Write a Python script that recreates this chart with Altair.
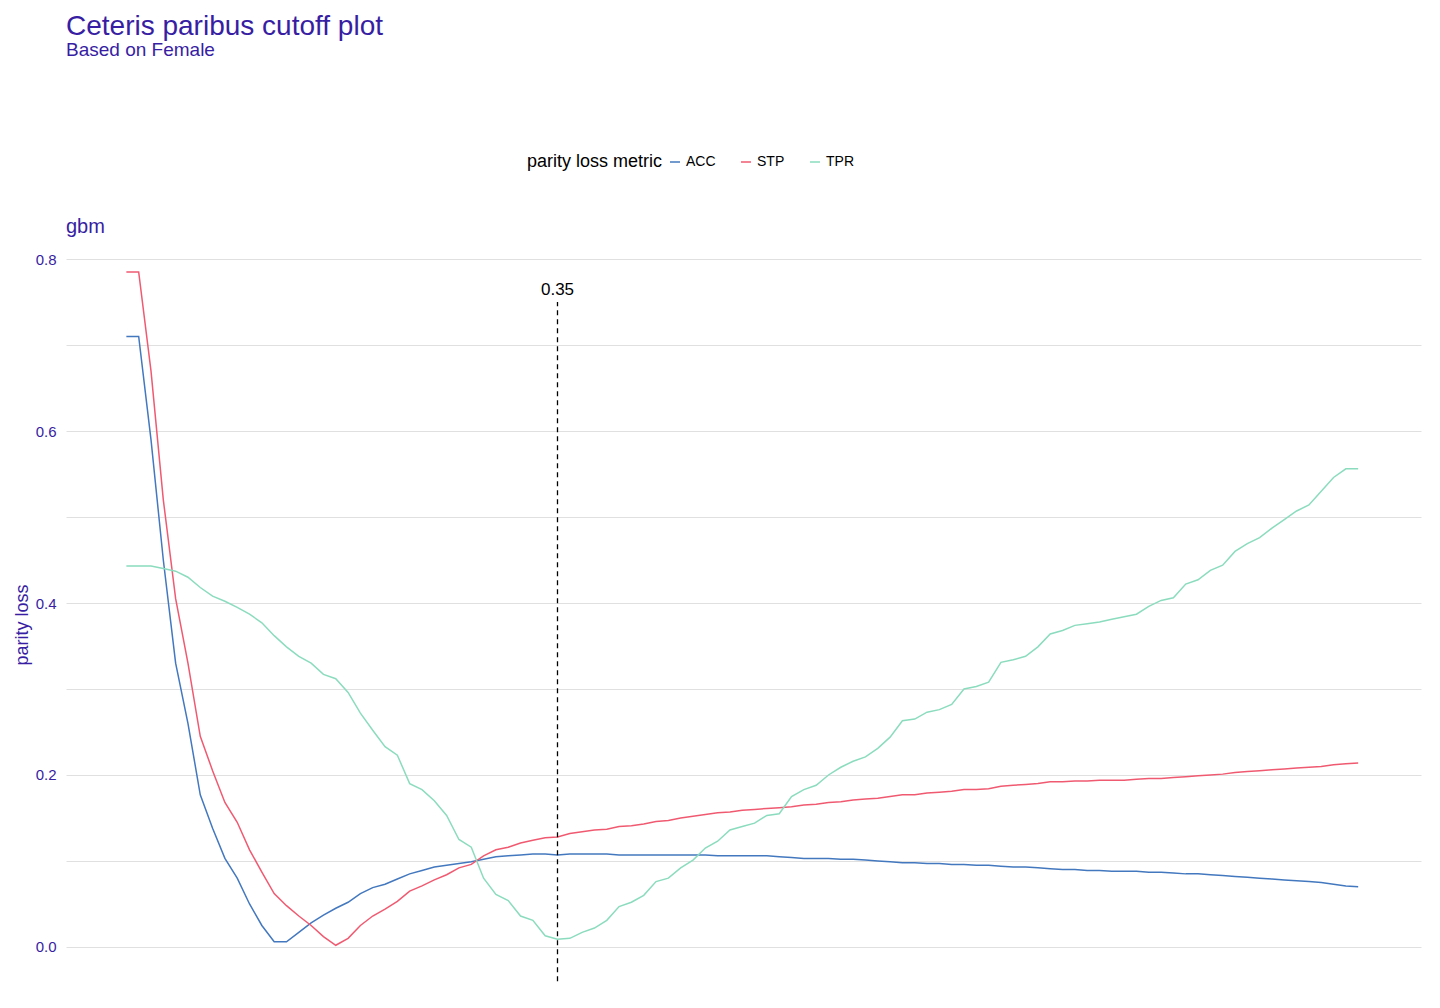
import altair as alt
import pandas as pd

cutoff = [round(i * 0.01, 2) for i in range(101)]
acc = [0.71,0.71,0.59,0.45,0.33,0.26,0.177,0.138,0.103,0.08,0.05,0.025,0.006,0.006,0.017,0.028,0.037,0.045,0.052,0.062,
       0.069,0.073,0.079,0.085,0.089,0.093,0.095,0.097,0.099,0.102,0.105,0.106,0.107,0.108,0.108,0.107,0.108,0.108,0.108,0.108,
       0.107,0.107,0.107,0.107,0.107,0.107,0.107,0.107,0.106,0.106,0.106,0.106,0.106,0.105,0.104,0.103,0.103,0.103,0.102,0.102,
       0.101,0.100,0.099,0.098,0.098,0.097,0.097,0.096,0.096,0.095,0.095,0.094,0.093,0.093,0.092,0.091,0.090,0.090,0.089,0.089,
       0.088,0.088,0.088,0.087,0.087,0.086,0.085,0.085,0.084,0.083,0.082,0.081,0.080,0.079,0.078,0.077,0.076,0.075,0.073,0.071,0.070]
stp = [0.785,0.785,0.67,0.52,0.405,0.33,0.245,0.205,0.168,0.145,0.113,0.087,0.062,0.048,0.036,0.025,0.012,0.002,0.01,0.025,
       0.036,0.044,0.053,0.065,0.071,0.078,0.084,0.092,0.096,0.106,0.113,0.116,0.121,0.124,0.127,0.128,0.132,0.134,0.136,0.137,
       0.140,0.141,0.143,0.146,0.147,0.150,0.152,0.154,0.156,0.157,0.159,0.160,0.161,0.162,0.163,0.165,0.166,0.168,0.169,0.171,
       0.172,0.173,0.175,0.177,0.177,0.179,0.180,0.181,0.183,0.183,0.184,0.187,0.188,0.189,0.190,0.192,0.192,0.193,0.193,0.194,
       0.194,0.194,0.195,0.196,0.196,0.197,0.198,0.199,0.200,0.201,0.203,0.204,0.205,0.206,0.207,0.208,0.209,0.210,0.212,0.213,0.214]
tpr = [0.443,0.443,0.443,0.44,0.437,0.43,0.418,0.408,0.402,0.395,0.387,0.377,0.362,0.349,0.338,0.33,0.317,0.312,0.296,0.272,
       0.252,0.233,0.223,0.19,0.183,0.17,0.153,0.125,0.116,0.08,0.061,0.054,0.036,0.031,0.013,0.009,0.01,0.017,0.022,0.031,
       0.047,0.052,0.06,0.076,0.08,0.092,0.101,0.115,0.123,0.136,0.14,0.144,0.153,0.155,0.175,0.183,0.188,0.2,0.209,0.216,
       0.221,0.231,0.244,0.263,0.265,0.273,0.276,0.282,0.3,0.303,0.308,0.331,0.334,0.338,0.349,0.364,0.368,0.374,0.376,0.378,
       0.381,0.384,0.387,0.396,0.403,0.406,0.422,0.427,0.438,0.444,0.46,0.469,0.476,0.487,0.497,0.507,0.514,0.53,0.546,0.556,0.556]
metrics = ["ACC", "STP", "TPR"]
colors = ["#4378bf", "#f05a71", "#8bdcbe"]
chosen_cutoff = 0.35

rows = []
for m, vals in zip(metrics, [acc, stp, tpr]):
    for c, v in zip(cutoff, vals):
        rows.append({"cutoff": c, "loss": v, "metric": m})
df = pd.DataFrame(rows)

purple = "#371ea3"
xs = alt.Scale(domain=[-0.049, 1.051], nice=False, zero=False)
ys = alt.Scale(domain=[-0.064, 0.814], nice=False, zero=False)

lines = alt.Chart(df).mark_line(strokeWidth=1.5).encode(
    x=alt.X("cutoff:Q", scale=xs, title="value of cutoff",
            axis=alt.Axis(values=[0, 0.25, 0.5, 0.75, 1.0], format=".2f", grid=False)),
    y=alt.Y("loss:Q", scale=ys, title="parity loss",
            axis=alt.Axis(values=[0, 0.1, 0.2, 0.3, 0.4, 0.5, 0.6, 0.7, 0.8],
                          labelExpr="(round(datum.value*10) % 2 == 0) ? format(datum.value, '.1f') : ''")),
    color=alt.Color("metric:N", scale=alt.Scale(domain=metrics, range=colors),
                    legend=alt.Legend(title="parity loss metric", orient="none", direction="horizontal",
                                      legendX=461, legendY=-92,
                                      titleOrient="left", symbolType="stroke", symbolStrokeWidth=1.5,
                                      titleFontSize=18, titleFontWeight="normal", labelFontSize=14,
                                      titleColor="black", labelColor="black", columnPadding=22)),
)

vdf = pd.DataFrame({"cutoff": [chosen_cutoff], "lo": [-0.04], "hi": [0.75], "label": ["0.35"]})
rule = alt.Chart(vdf).mark_rule(color="black", strokeDash=[5, 4], strokeWidth=1.3).encode(
    x="cutoff:Q", y="lo:Q", y2="hi:Q")
lbl = alt.Chart(vdf).mark_text(dy=-12, fontSize=17, color="black").encode(
    x="cutoff:Q", y="hi:Q", text="label:N")
gbm = alt.Chart(pd.DataFrame({"t": ["gbm"]})).mark_text(
    align="left", fontSize=20, color=purple, baseline="bottom").encode(
    x=alt.value(0), y=alt.value(-10), text="t:N")

chart = alt.layer(lines, rule, lbl, gbm).properties(
    width=1355, height=755,
    title=alt.Title("Ceteris paribus cutoff plot", subtitle="Based on Female", anchor="start",
                    fontSize=28, fontWeight="normal", color=purple, subtitleColor=purple,
                    subtitleFontSize=19, offset=95, frame="group", subtitlePadding=0),
).configure(font="Liberation Sans").configure_view(stroke=None).configure_axis(
    domain=False, ticks=False, gridColor="#e0e0e0", labelColor=purple, titleColor=purple,
    labelFontSize=15, titleFontSize=18, titleFontWeight="normal", labelPadding=10,
    labelFont="Liberation Sans", titleFont="Liberation Sans",
)

chart.save("out.html", embed_options={"renderer": "svg", "actions": False})
